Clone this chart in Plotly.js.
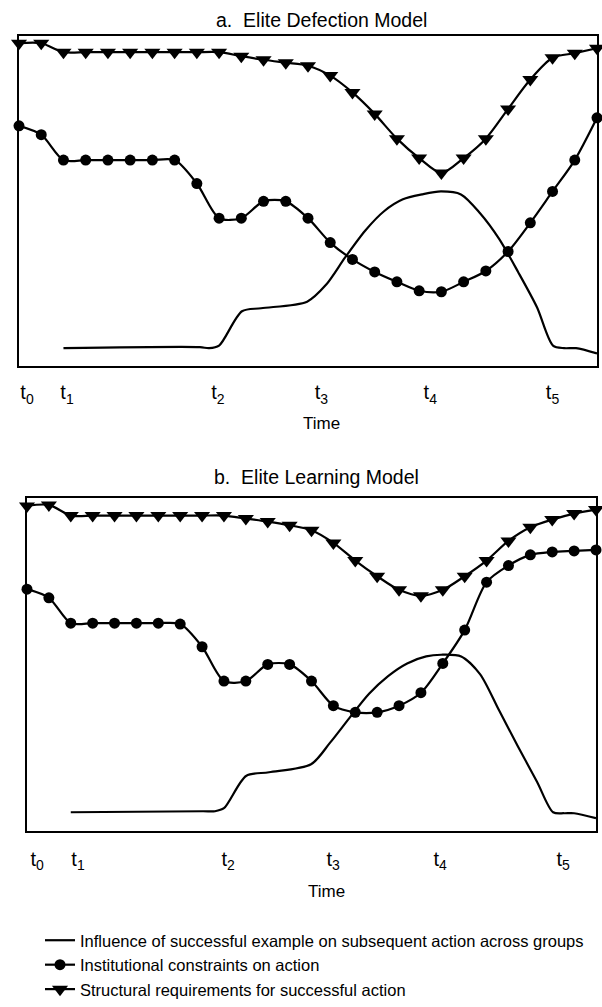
<!DOCTYPE html>
<html>
<head>
<meta charset="utf-8">
<script src="https://cdn.plot.ly/plotly-3.0.1.min.js"></script>
<style>html,body{margin:0;padding:0;background:#fff;}#chart{width:602px;height:1007px;}</style>
</head>
<body>
<div id="chart"></div>
<script>
// ---- data ----
const steps = [0,1,2,3,4,5,6,7,8,9,10,11,12,13,14,15,16,17,18,19,20,21,22,23,24,25,26];

// Panel a: Elite Defection Model
const structA = [97.9,97.9,95.2,95.2,95.2,95.2,95.2,95.2,95.2,95.2,94.0,92.9,92.0,91.1,88.1,83.0,76.5,69.0,63.1,58.6,63.1,69.0,78.0,86.9,93.5,94.9,96.4];
const instA   = [72.9,70.2,62.5,62.5,62.5,62.5,62.5,62.5,55.4,44.9,44.9,50.0,50.0,44.9,37.5,32.4,28.6,25.6,22.9,22.6,25.6,28.9,34.8,43.5,53.0,62.5,75.3];
const inflAx  = [2.0,8.14,8.55,9.0,10.03,10.89,12.96,13.81,14.67,15.57,16.42,17.27,18.13,18.98,19.88,20.74,21.59,22.45,23.30,24.02,24.52,25.06,26.0];
const inflAy  = [5.5,5.8,5.5,6.3,16.7,17.6,19.6,24.7,33.0,41.1,47.0,50.6,52.1,53.0,52.1,46.4,38.7,28.6,17.9,6.3,5.5,5.5,3.9];
const tickPosA = [0.36,2.16,8.95,13.6,18.5,24.0];

// Panel b: Elite Learning Model
const structB = [97.6,97.9,94.7,94.7,94.7,94.7,94.7,94.7,94.7,94.7,93.8,92.9,91.8,90.3,86.5,81.2,76.5,72.4,70.6,72.4,76.5,81.2,87.1,91.2,93.5,95.3,96.5];
const instB   = [72.6,70.0,62.4,62.4,62.4,62.4,62.4,62.1,55.3,45.0,45.0,50.0,50.0,45.0,37.6,35.6,35.6,37.6,41.5,50.3,60.3,74.7,79.7,82.9,83.8,84.1,84.4];
const inflBx  = [2.0,8.04,8.59,9.0,10.01,11.06,12.98,13.85,14.72,15.63,16.5,17.37,18.24,18.92,19.84,20.7,21.57,22.44,23.31,24.04,24.54,25.0,26.0];
const inflBy  = [5.6,5.9,5.9,6.8,16.5,17.6,20.0,26.5,33.8,41.2,46.5,50.3,52.4,52.9,52.4,47.1,36.2,25.3,14.7,5.6,5.3,5.3,3.8];
const tickPosB = [0.46,2.33,9.19,13.99,18.88,24.5];

const tickLabels = ['0','1','2','3','4','5'];
const seriesNames = ['Influence of successful example on subsequent action across groups','Institutional constraints on action','Structural requirements for successful action'];
const panelTitles = ['a.  Elite Defection Model','b.  Elite Learning Model'];
const axisTitle = 'Time';

const tickText = tickLabels.map(d => 't<sub>' + d + '</sub>');

// ---- traces ----
const FONT = 'Liberation Sans, Arial, sans-serif';
const LW = 2.2;
function inflTrace(x,y,xa,ya,show){return {x:x,y:y,xaxis:xa,yaxis:ya,type:'scatter',mode:'lines',line:{color:'#000',width:LW,shape:'spline',smoothing:0.8},name:seriesNames[0],showlegend:show,legendgroup:'g1',cliponaxis:false,hoverinfo:'skip'};}
function instTrace(y,xa,ya,show){return {x:steps,y:y,xaxis:xa,yaxis:ya,type:'scatter',mode:'lines+markers',line:{color:'#000',width:LW,shape:'spline',smoothing:0.8},marker:{symbol:'circle',size:11,color:'#000'},name:seriesNames[1],showlegend:show,legendgroup:'g2',cliponaxis:false,hoverinfo:'skip'};}
function structTrace(y,xa,ya,show){return {x:steps,y:y,xaxis:xa,yaxis:ya,type:'scatter',mode:'lines+markers',line:{color:'#000',width:LW,shape:'spline',smoothing:0.8},marker:{symbol:'triangle-down',size:14,color:'#000'},name:seriesNames[2],showlegend:show,legendgroup:'g3',cliponaxis:false,hoverinfo:'skip'};}

const data = [
  inflTrace(inflAx,inflAy,'x','y',true),
  instTrace(instA,'x','y',true),
  structTrace(structA,'x','y',true),
  inflTrace(inflBx,inflBy,'x2','y2',false),
  instTrace(instB,'x2','y2',false),
  structTrace(structB,'x2','y2',false)
];

const H = 1007, W = 602;
function xAxis(dom,ticks,anchor,standoff){return {domain:dom,range:[0,26],anchor:anchor,showline:true,mirror:true,linecolor:'#000',linewidth:2,showgrid:false,zeroline:false,ticks:'',tickmode:'array',tickvals:ticks,ticktext:tickText,ticklabelstandoff:standoff,tickfont:{family:FONT,size:20,color:'#000'},fixedrange:true};}
function yAxis(dom,anchor){return {domain:dom,range:[0,100],anchor:anchor,showline:true,mirror:true,linecolor:'#000',linewidth:2,showgrid:false,zeroline:false,ticks:'',showticklabels:false,fixedrange:true};}

function note(text,px,py,size){return {text:text,xref:'paper',yref:'paper',x:px/W,y:1-py/H,xanchor:'center',yanchor:'middle',showarrow:false,font:{family:FONT,size:size,color:'#000'}};}

const layout = {
  width:W,height:H,margin:{l:0,r:0,t:0,b:0},paper_bgcolor:'#fff',plot_bgcolor:'#fff',
  font:{family:FONT,color:'#000'},
  xaxis: xAxis([19/W,597/W],tickPosA,'y',7),
  yaxis: yAxis([1-373/H,1-37/H],'x'),
  xaxis2: xAxis([27/W,596/W],tickPosB,'y2',9),
  yaxis2: yAxis([1-846/H,1-507/H],'x2'),
  showlegend:true,
  legend:{x:40/W,y:1-940/H,xanchor:'left',yanchor:'top',traceorder:'grouped',tracegroupgap:0,font:{family:FONT,size:16.5,color:'#000'},bgcolor:'rgba(0,0,0,0)',itemwidth:30},
  annotations:[
    note(panelTitles[0],321,20,19.5),
    note(panelTitles[1],316,486,19.5),
    note(axisTitle,322,431,17),
    note(axisTitle,326,908,17)
  ]
};
Plotly.newPlot('chart',data,layout,{staticPlot:true,displayModeBar:false});
</script>
</body>
</html>
